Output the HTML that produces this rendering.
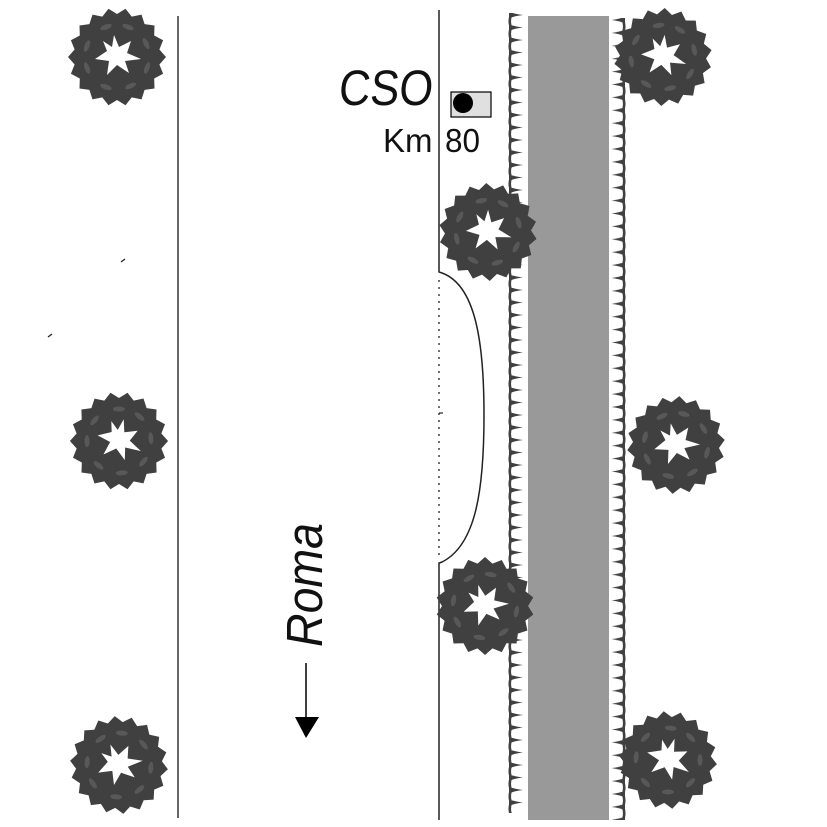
<!DOCTYPE html>
<html><head><meta charset="utf-8"><style>html,body{margin:0;padding:0;background:#fff}svg{display:block}</style></head>
<body>
<svg width="827" height="827" viewBox="0 0 827 827" xmlns="http://www.w3.org/2000/svg" xmlns:xlink="http://www.w3.org/1999/xlink">
<defs>
<g id="tree">
<polygon fill="#404040" points="49,0 42.4,7.5 46.1,16.8 37.2,21.5 37.5,31.5 27.6,32.9 24.5,42.4 14.7,40.4 8.5,48.3 0,43 -8.5,48.3 -14.7,40.4 -24.5,42.4 -27.6,32.9 -37.5,31.5 -37.2,21.5 -46.1,16.8 -42.4,7.5 -49,0 -42.4,-7.5 -46.1,-16.8 -37.2,-21.5 -37.5,-31.5 -27.6,-32.9 -24.5,-42.4 -14.7,-40.4 -8.5,-48.3 0,-43 8.5,-48.3 14.7,-40.4 24.5,-42.4 27.6,-32.9 37.5,-31.5 37.2,-21.5 46.1,-16.8 42.4,-7.5"/>
<polygon fill="#fff" points="-3,-22 2,-10 14,-16 10,-4 24,2 8,4 12,16 0,8 -10,18 -8,4 -22,2 -10,-6 -14,-16 -5,-10"/>
<g fill="#585858">
<ellipse cx="30" cy="11" rx="2.5" ry="6" transform="rotate(20 30 11)"/>
<ellipse cx="13.5" cy="29" rx="2.5" ry="6" transform="rotate(65 13.5 29)"/>
<ellipse cx="-11" cy="30" rx="2.5" ry="6" transform="rotate(110 -11 30)"/>
<ellipse cx="-30" cy="11" rx="2.5" ry="6" transform="rotate(160 -30 11)"/>
<ellipse cx="-30" cy="-11" rx="2.5" ry="6" transform="rotate(200 -30 -11)"/>
<ellipse cx="-11" cy="-30" rx="2.5" ry="6" transform="rotate(250 -11 -30)"/>
<ellipse cx="11" cy="-30" rx="2.5" ry="6" transform="rotate(290 11 -30)"/>
<ellipse cx="29" cy="-13.5" rx="2.5" ry="6" transform="rotate(335 29 -13.5)"/>
</g>
</g>
<pattern id="hl" patternUnits="userSpaceOnUse" x="504" y="13" width="20" height="12.5">
<path d="M7,-10.5 Q4.5,-4.25 7,2 Q4.5,8.25 7,14.5" fill="none" stroke="#404040" stroke-width="2.6"/>
<path d="M5,-1.5 Q10,1 19,2 Q10,3 5,5.5 Z" fill="#404040"/>
</pattern>
<pattern id="hr" patternUnits="userSpaceOnUse" x="604" y="18" width="24" height="12.9">
<path d="M19,-10.9 Q21.5,-4.45 19,2 Q21.5,8.45 19,14.9" fill="none" stroke="#404040" stroke-width="2.6"/>
<path d="M21,-1.5 Q16,1 7.5,2 Q16,3 21,5.5 Z" fill="#404040"/>
</pattern>
</defs>

<line x1="178" y1="16" x2="178" y2="818" stroke="#000" stroke-width="1.2"/>
<path d="M439,10 L439,272 L442,273 C475,285 484,340 484,415 C484,490 476,545 442,562 L439,563 L439,820" fill="none" stroke="#222" stroke-width="1.5"/>
<line x1="439" y1="280" x2="439" y2="560" stroke="#222" stroke-width="1.3" stroke-dasharray="2 5"/>
<line x1="439" y1="413" x2="443" y2="413" stroke="#222" stroke-width="1.2"/>

<line x1="121" y1="262" x2="125" y2="259" stroke="#222" stroke-width="1.3"/>
<line x1="48" y1="337" x2="52" y2="334" stroke="#222" stroke-width="1.3"/>

<rect x="528" y="16" width="81" height="804" fill="#999"/>
<rect x="504" y="13" width="20" height="800" fill="url(#hl)"/>
<rect x="604" y="18" width="24" height="802" fill="url(#hr)"/>

<use href="#tree" xlink:href="#tree" transform="translate(117,57)"/>
<use href="#tree" xlink:href="#tree" transform="translate(119,441) rotate(20)"/>
<use href="#tree" xlink:href="#tree" transform="translate(119,765) rotate(-15)"/>
<use href="#tree" xlink:href="#tree" transform="translate(488,232) rotate(8)"/>
<use href="#tree" xlink:href="#tree" transform="translate(485,606) rotate(-10)"/>
<use href="#tree" xlink:href="#tree" transform="translate(663,57) rotate(12)"/>
<use href="#tree" xlink:href="#tree" transform="translate(676,445) rotate(-6)"/>
<use href="#tree" xlink:href="#tree" transform="translate(668,760) rotate(25)"/>

<text x="338" y="105" font-family="Liberation Sans, sans-serif" font-size="50" fill="#111" textLength="94" lengthAdjust="spacingAndGlyphs" transform="translate(9,0) skewX(-5)">CSO</text>
<rect x="451" y="92" width="40" height="25" fill="#e0e0e0" stroke="#000" stroke-width="1.2"/>
<circle cx="463" cy="103" r="10" fill="#000"/>
<text x="383" y="152" font-family="Liberation Sans, sans-serif" font-size="33" fill="#111">Km</text>
<text x="445" y="152" font-family="Liberation Sans, sans-serif" font-size="33" fill="#111" textLength="35" lengthAdjust="spacingAndGlyphs">80</text>

<text transform="translate(322,647) rotate(-90)" x="0" y="0" font-family="Liberation Sans, sans-serif" font-style="italic" font-size="51" fill="#111" textLength="124" lengthAdjust="spacingAndGlyphs">Roma</text>
<line x1="306" y1="663" x2="306" y2="718" stroke="#000" stroke-width="1.5"/>
<polygon points="295,717 319,717 306,738" fill="#000"/>
</svg>
</body></html>
